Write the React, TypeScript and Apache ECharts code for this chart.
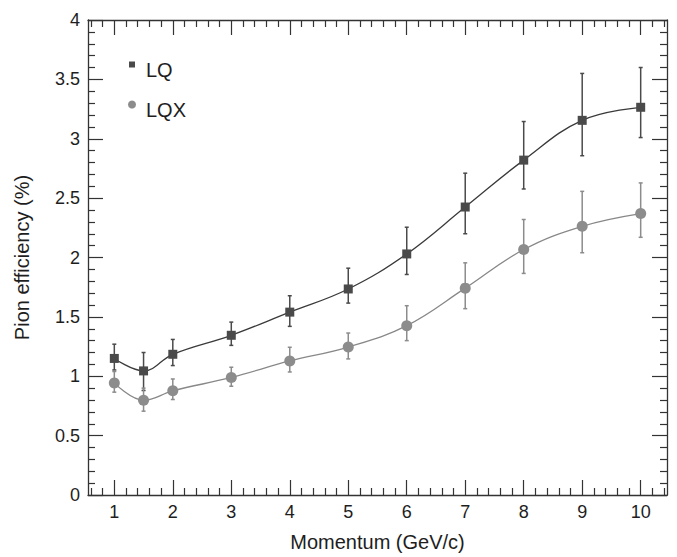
import React, { useEffect, useRef } from "react";
import * as echarts from "echarts";

const momentum = [1, 1.5, 2, 3, 4, 5, 6, 7, 8, 9, 10];
const lqValues = [1.15, 1.045, 1.185, 1.345, 1.54, 1.735, 2.03, 2.425, 2.82, 3.155, 3.265];
const lqHigh = [1.27, 1.2, 1.31, 1.456, 1.678, 1.91, 2.255, 2.71, 3.145, 3.55, 3.6];
const lqLow = [1.053, 0.88, 1.09, 1.26, 1.42, 1.616, 1.857, 2.2, 2.577, 2.857, 3.01];
const lqxValues = [0.944, 0.798, 0.877, 0.99, 1.129, 1.246, 1.426, 1.742, 2.067, 2.263, 2.37];
const lqxHigh = [1.04, 0.9, 0.977, 1.076, 1.244, 1.364, 1.594, 1.955, 2.32, 2.557, 2.628];
const lqxLow = [0.866, 0.706, 0.804, 0.916, 1.036, 1.146, 1.3, 1.569, 1.866, 2.04, 2.17];
const xMajorTicks = [1, 2, 3, 4, 5, 6, 7, 8, 9, 10];
const xMinorTicks: number[] = [];
for (let i = 3; i <= 52; i++) {
  const v = Math.round(i * 0.2 * 10) / 10;
  if (v > 0.55 && v < 10.45 && Math.abs(v - Math.round(v)) > 1e-6) xMinorTicks.push(v);
}

const FONT = "'Liberation Sans', Arial, Helvetica, sans-serif";
const AXIS_COLOR = "#333333";
const TEXT_COLOR = "#1e1e1e";
const LQ_COLOR = "#4a4a4a";
const LQX_COLOR = "#8c8c8c";

function errorSeries(name: string, low: number[], high: number[], color: string) {
  return {
    type: "custom",
    name: name + " error",
    xAxisIndex: 0,
    yAxisIndex: 0,
    silent: true,
    z: 2,
    data: momentum.map((x, i) => [x, low[i], high[i]]),
    renderItem: (params: any, api: any) => {
      const x = api.value(0);
      const lo = api.coord([x, api.value(1)]);
      const hi = api.coord([x, api.value(2)]);
      const cap = 2;
      const style = { stroke: color, lineWidth: 1.5 };
      return {
        type: "group",
        children: [
          { type: "line", shape: { x1: lo[0], y1: lo[1], x2: hi[0], y2: hi[1] }, style },
          { type: "line", shape: { x1: lo[0] - cap, y1: lo[1], x2: lo[0] + cap, y2: lo[1] }, style },
          { type: "line", shape: { x1: hi[0] - cap, y1: hi[1], x2: hi[0] + cap, y2: hi[1] }, style },
        ],
      };
    },
  };
}

function xAxisDef(position: "top" | "bottom", ticks: number[], length: number, withLabel: boolean, withLine: boolean) {
  return {
    type: "value",
    position,
    min: 0.55,
    max: 10.45,
    splitLine: { show: false },
    axisLine: { show: withLine, onZero: false, lineStyle: { color: AXIS_COLOR, width: 1.3 } },
    axisTick: {
      show: true,
      inside: true,
      length,
      customValues: ticks,
      lineStyle: { color: AXIS_COLOR, width: 1.2 },
    },
    axisLabel: withLabel
      ? { show: true, customValues: xMajorTicks, fontSize: 18, color: TEXT_COLOR, fontFamily: FONT, margin: 8 }
      : { show: false },
    ...(withLabel
      ? {
          name: "Momentum (GeV/c)",
          nameLocation: "middle",
          nameGap: 37,
          nameTextStyle: { fontSize: 20, color: TEXT_COLOR, fontFamily: FONT },
        }
      : {}),
  };
}

function yAxisDef(position: "left" | "right", withLabel: boolean) {
  return {
    type: "value",
    position,
    min: 0,
    max: 4,
    interval: 0.5,
    splitLine: { show: false },
    axisLine: { show: true, onZero: false, lineStyle: { color: AXIS_COLOR, width: 1.3 } },
    axisTick: { show: true, inside: true, length: 15, lineStyle: { color: AXIS_COLOR, width: 1.2 } },
    minorTick: { show: true, splitNumber: 5, length: 7, lineStyle: { color: AXIS_COLOR, width: 1.2 } },
    axisLabel: withLabel
      ? {
          show: true,
          fontSize: 18,
          color: TEXT_COLOR,
          fontFamily: FONT,
          margin: 8,
          formatter: (v: number) => String(v),
        }
      : { show: false },
    ...(withLabel
      ? {
          name: "Pion efficiency (%)",
          nameLocation: "middle",
          nameGap: 56,
          nameTextStyle: { fontSize: 20, color: TEXT_COLOR, fontFamily: FONT },
        }
      : {}),
  };
}

function legendDef(name: string, icon: string, left: number, top: number, size: number, padLeft: number) {
  return {
    data: [{ name, icon }],
    left,
    top,
    padding: 0,
    itemWidth: size,
    itemHeight: size,
    selectedMode: false,
    formatter: "{t|{name}}",
    textStyle: {
      fontSize: 20,
      color: TEXT_COLOR,
      fontFamily: FONT,
      rich: {
        t: {
          fontSize: 20,
          lineHeight: 20,
          color: TEXT_COLOR,
          fontFamily: FONT,
          padding: [11, 0, 0, padLeft],
        },
      },
    },
  };
}

export default function App() {
  const ref = useRef<HTMLDivElement>(null);
  useEffect(() => {
    document.body.style.margin = "0";
    if (!ref.current) return;
    const chart = echarts.init(ref.current, null, { renderer: "svg" });
    chart.setOption({
      animation: false,
      backgroundColor: "#ffffff",
      textStyle: { fontFamily: FONT },
      grid: { left: 88, top: 20, right: 10, bottom: 61, containLabel: false },
      xAxis: [
        xAxisDef("bottom", xMajorTicks, 15, true, true),
        xAxisDef("bottom", xMinorTicks, 7, false, false),
        xAxisDef("top", xMajorTicks, 15, false, true),
        xAxisDef("top", xMinorTicks, 7, false, false),
      ],
      yAxis: [yAxisDef("left", true), yAxisDef("right", false)],
      legend: [
        legendDef("LQ", "rect", 129, 49, 6, 6),
        legendDef("LQX", "circle", 128, 89, 8, 5),
      ],
      series: [
        errorSeries("LQ", lqLow, lqHigh, LQ_COLOR),
        errorSeries("LQX", lqxLow, lqxHigh, LQX_COLOR),
        {
          type: "line",
          name: "LQ",
          xAxisIndex: 0,
          yAxisIndex: 0,
          data: momentum.map((x, i) => [x, lqValues[i]]),
          smooth: 0.4,
          symbol: "rect",
          symbolSize: 9,
          itemStyle: { color: LQ_COLOR },
          lineStyle: { color: "#3a3a3a", width: 1.3 },
          z: 3,
        },
        {
          type: "line",
          name: "LQX",
          xAxisIndex: 0,
          yAxisIndex: 0,
          data: momentum.map((x, i) => [x, lqxValues[i]]),
          smooth: 0.4,
          symbol: "circle",
          symbolSize: 11,
          itemStyle: { color: LQX_COLOR },
          lineStyle: { color: "#888888", width: 1.3 },
          z: 3,
        },
      ],
    });
    return () => chart.dispose();
  }, []);
  return <div ref={ref} style={{ width: 677, height: 557 }} />;
}
